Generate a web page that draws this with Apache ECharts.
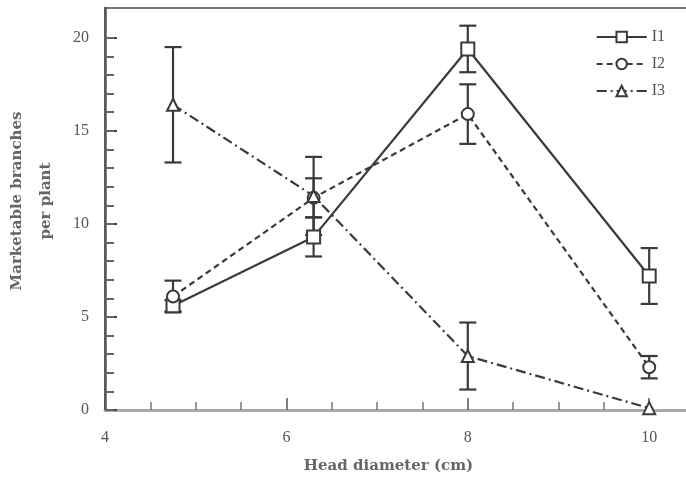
<!DOCTYPE html>
<html>
<head>
<meta charset="utf-8">
<script src="https://cdn.jsdelivr.net/npm/echarts@6/dist/echarts.min.js"></script>
<style>
html,body{margin:0;padding:0;background:#fff;}
#chart{width:686px;height:479px;}
</style>
</head>
<body>
<div id="chart"></div>
<script>
// ---- data ----
const headDiameter = [4.75, 6.3, 8, 10];
const seriesNames = ['I1', 'I2', 'I3'];
const i1Values = [5.6, 9.3, 19.4, 7.2];
const i1Errors = [0.3, 1.05, 1.25, 1.5];
const i2Values = [6.1, 11.4, 15.9, 2.3];
const i2Errors = [0.85, 1.05, 1.6, 0.6];
const i3Values = [16.4, 11.5, 2.9, 0.1];
const i3Errors = [3.1, 2.1, 1.8, 0];
const xTickLabels = ['4', '6', '8', '10'];
const yTickLabels = ['0', '5', '10', '15', '20'];
const yMajorTicks = [0, 5, 10, 15, 20];
const yMinorTicks = [0, 1, 2, 3, 4, 5, 6, 7, 8, 9, 10, 11, 12, 13, 14, 15, 16, 17, 18, 19, 20];

const ink = '#3a3a3a';
const textColor = '#555';
const font = '"Liberation Serif", "DejaVu Serif", serif';
const nameFont = '"DejaVu Serif", "Liberation Serif", serif';

function pairs(vals) { return headDiameter.map((x, i) => [x, vals[i]]); }
function errPairs(vals, errs) { return headDiameter.map((x, i) => [x, vals[i] - errs[i], vals[i] + errs[i]]); }

function errorSeries(vals, errs) {
  return {
    type: 'custom',
    data: errPairs(vals, errs),
    z: 1,
    silent: true,
    renderItem: function (params, api) {
      const x = api.value(0), lo = api.value(1), hi = api.value(2);
      if (hi - lo <= 0) return null;
      const pLo = api.coord([x, lo]);
      const pHi = api.coord([x, hi]);
      const w = 8.5;
      const st = { stroke: ink, lineWidth: 2.2, fill: null };
      return {
        type: 'group',
        children: [
          { type: 'line', shape: { x1: pLo[0], y1: pLo[1], x2: pHi[0], y2: pHi[1] }, style: st },
          { type: 'line', shape: { x1: pLo[0] - w, y1: pLo[1], x2: pLo[0] + w, y2: pLo[1] }, style: st },
          { type: 'line', shape: { x1: pHi[0] - w, y1: pHi[1], x2: pHi[0] + w, y2: pHi[1] }, style: st }
        ]
      };
    }
  };
}

function lineSeries(name, vals, symbol, size, type) {
  return {
    name: name,
    type: 'line',
    data: pairs(vals),
    symbol: symbol,
    symbolSize: size,
    z: 3,
    lineStyle: { color: ink, width: 2.2, type: type },
    itemStyle: { color: '#fff', borderColor: ink, borderWidth: 2 }
  };
}

const chart = echarts.init(document.getElementById('chart'), null, { renderer: 'canvas' });
chart.setOption({
  animation: false,
  backgroundColor: '#fff',
  textStyle: { fontFamily: font },
  grid: {
    left: 105, top: 8, right: -4, bottom: 69,
    containLabel: false, outerBoundsMode: 'none',
    show: true, borderColor: '#777', borderWidth: 2, backgroundColor: 'transparent'
  },
  legend: {
    orient: 'vertical',
    right: 16,
    top: 24,
    itemWidth: 50,
    itemHeight: 13,
    itemGap: 11,
    data: seriesNames,
    textStyle: { fontFamily: font, fontSize: 16, color: textColor },
    itemStyle: { color: '#fff' }
  },
  xAxis: {
    type: 'value',
    min: 4,
    max: 10.45,
    interval: 2,
    name: 'Head diameter (cm)',
    nameLocation: 'middle',
    nameGap: 49,
    nameTextStyle: { fontFamily: nameFont, fontSize: 15, fontWeight: 'bold', color: '#666', padding: [0, 18, 0, 0] },
    axisLine: { show: true, onZero: false, lineStyle: { color: '#aaa', width: 3 } },
    axisTick: { show: true, inside: true, length: 12, lineStyle: { color: '#555', width: 1.5 } },
    minorTick: { show: true, splitNumber: 4, length: 8, lineStyle: { color: '#777', width: 1.5 } },
    splitLine: { show: false },
    axisLabel: {
      margin: 20, fontSize: 16, color: textColor, fontFamily: font,
      formatter: function (v) { const i = xTickLabels.indexOf(String(v)); return i >= 0 ? xTickLabels[i] : ''; }
    }
  },
  yAxis: [{
    type: 'value',
    min: 0,
    max: 21.6,
    interval: 5,
    name: 'Marketable branches\nper plant',
    nameLocation: 'middle',
    nameGap: 44,
    nameTextStyle: { fontFamily: nameFont, fontSize: 15, fontWeight: 'bold', color: '#666', lineHeight: 29, padding: [0, 0, 0, 16] },
    axisLine: { show: true, lineStyle: { color: '#555', width: 2.5 } },
    axisTick: { show: true, inside: true, length: 12, customValues: yMajorTicks, lineStyle: { color: '#444', width: 2 } },
    minorTick: { show: false },
    splitLine: { show: false },
    axisLabel: {
      margin: 16, fontSize: 16, color: textColor, fontFamily: font,
      customValues: yMajorTicks,
      formatter: function (v) { const i = yMajorTicks.indexOf(v); return i >= 0 ? yTickLabels[i] : ''; }
    }
  }, {
    type: 'value',
    position: 'left',
    min: 0,
    max: 21.6,
    axisLine: { show: false },
    axisTick: { show: true, inside: true, length: 9, customValues: yMinorTicks, lineStyle: { color: '#666', width: 2 } },
    axisLabel: { show: false },
    splitLine: { show: false }
  }],
  series: [
    lineSeries('I1', i1Values, 'rect', 13, 'solid'),
    lineSeries('I2', i2Values, 'circle', 12, [6, 4]),
    lineSeries('I3', i3Values, 'triangle', 12, [10, 4, 2, 4]),
    errorSeries(i1Values, i1Errors),
    errorSeries(i2Values, i2Errors),
    errorSeries(i3Values, i3Errors)
  ]
});
</script>
</body>
</html>
